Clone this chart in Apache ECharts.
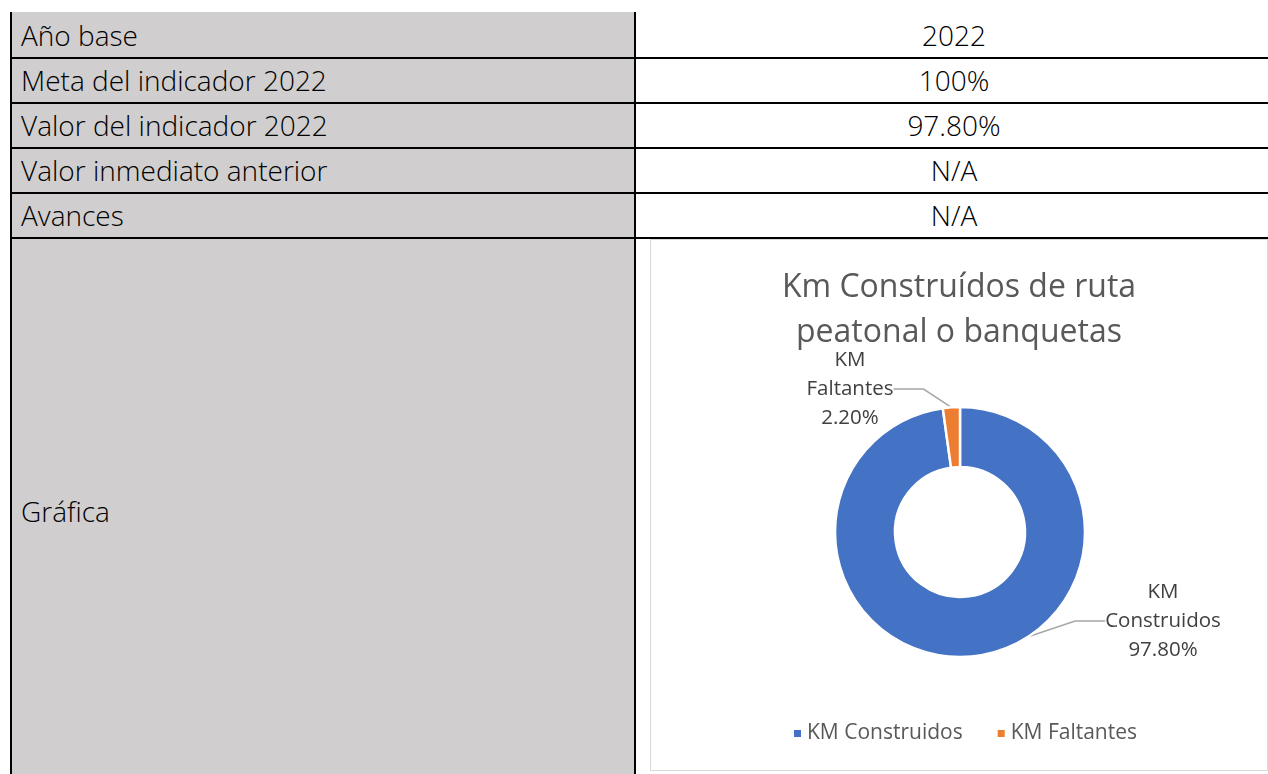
<!DOCTYPE html>
<html>
<head>
<meta charset="utf-8">
<script src="https://cdn.jsdelivr.net/npm/echarts@6/dist/echarts.min.js"></script>
<style>
body{margin:0;background:#fff;font-family:"Open Sans",sans-serif}
.page{position:relative;width:1268px;height:774px;overflow:hidden}
.gray{position:absolute;left:12px;top:12px;width:622px;height:762px;background:#d0cece}
.line{position:absolute;background:#000}
.lab{position:absolute;left:21px;height:45px;line-height:47px;font-size:28px;font-weight:300;color:#000}
.val{position:absolute;left:636px;width:636px;height:45px;line-height:47px;text-align:center;font-size:28px;font-weight:300;color:#000}
#chart{position:absolute;left:650px;top:239px;width:616px;height:530px;border:1px solid #d9d9d9;background:#fff}
</style>
</head>
<body>
<div class="page" id="page">
    <div class="gray"></div>
    <div class="line" style="left:10px;top:12px;width:2px;height:762px"></div>
    <div class="line" style="left:634px;top:12px;width:2px;height:762px"></div>
    <div id="chart"></div>
</div>
<script type="text/javascript">
// tabla
var rowLabels = ['Año base', 'Meta del indicador 2022', 'Valor del indicador 2022', 'Valor inmediato anterior', 'Avances'];
var rowValues = ['2022', '100%', '97.80%', 'N/A', 'N/A'];
var lastRowLabel = 'Gráfica';

// gráfica
var chartTitle = 'Km Construídos de ruta\npeatonal o banquetas';
var categories = ['KM Construidos', 'KM Faltantes'];
var values = [97.8, 2.2];
var colors = ['#4472c4', '#ed7d31'];

var page = document.getElementById('page');
for (var i = 0; i < rowLabels.length; i++) {
    var rowTop = 12 + 45 * i;
    var l = document.createElement('div');
    l.className = 'lab';
    l.style.top = rowTop + 'px';
    l.textContent = rowLabels[i];
    page.appendChild(l);
    var v = document.createElement('div');
    v.className = 'val';
    v.style.top = rowTop + 'px';
    v.textContent = rowValues[i];
    page.appendChild(v);
    var h = document.createElement('div');
    h.className = 'line';
    h.style.cssText = 'left:10px;width:1258px;height:2px;top:' + (rowTop + 45) + 'px';
    page.appendChild(h);
}
var g = document.createElement('div');
g.className = 'lab';
g.style.top = '488px';
g.textContent = lastRowLabel;
page.appendChild(g);

var myChart = echarts.init(document.getElementById('chart'));
var data = categories.map(function (c, i) {
    return { name: c, value: values[i] };
});
option = {
    color: colors,
    textStyle: { fontFamily: 'Open Sans' },
    title: {
        text: chartTitle,
        left: 'center',
        top: 20,
        textStyle: { fontSize: 32, fontWeight: 'normal', color: '#595959', lineHeight: 45 }
    },
    legend: {
        left: 136,
        top: 478,
        icon: 'rect',
        itemWidth: 9,
        itemHeight: 9,
        itemGap: 33,
        textStyle: { fontSize: 21, color: '#595959' },
        data: categories
    },
    series: [
        {
            type: 'pie',
            center: [309, 292],
            radius: [65, 125],
            startAngle: 90,
            animation: false,
            itemStyle: { borderColor: '#fff', borderWidth: 2.5 },
            label: {
                color: '#404040',
                fontSize: 20.5,
                lineHeight: 29,
                align: 'center',
                formatter: function (p) {
                    return p.name.replace(' ', '\n') + '\n' + p.value.toFixed(2) + '%';
                }
            },
            labelLine: { lineStyle: { color: '#a6a6a6', width: 1.5 } },
            labelLayout: function (params) {
                if (params.dataIndex === 0) {
                    return { x: 512, y: 381, align: 'center', verticalAlign: 'middle' };
                }
                return { x: 199, y: 149, align: 'center', verticalAlign: 'middle' };
            },
            emphasis: { disabled: true },
            data: data
        }
    ]
};
myChart.setOption(option, true);
</script>
</body>
</html>
